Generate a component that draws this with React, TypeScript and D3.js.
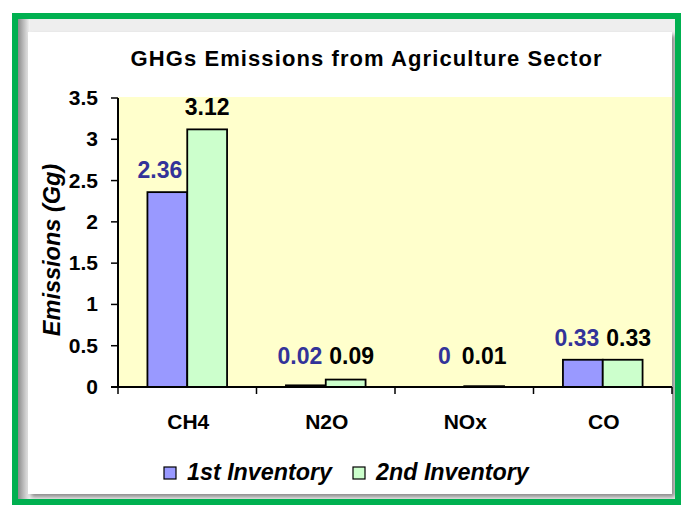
import React from "react";
import * as d3 from "d3";

const categories = ["CH4", "N2O", "NOx", "CO"];
const seriesNames = ["1st Inventory", "2nd Inventory"];
const firstInventory = [2.36, 0.02, 0, 0.33];
const secondInventory = [3.12, 0.09, 0.01, 0.33];
const yTicks = [0, 0.5, 1, 1.5, 2, 2.5, 3, 3.5];
const seriesColors = ["#9999ff", "#ccffcc"];
const labelColors = ["#333399", "#000000"];

const W = 684;
const H = 506;
const FONT = "'Liberation Sans', Arial, Helvetica, sans-serif";

export default function App() {
  const plot = { left: 118, right: 672, top: 97, bottom: 387 };
  const x = d3.scaleBand<string>().domain(categories).range([plot.left, plot.right]).paddingInner(0).paddingOuter(0);
  const bw = x.bandwidth();
  const groupFrac = 0.575;
  const xs = d3
    .scaleBand<string>()
    .domain(seriesNames)
    .range([(bw * (1 - groupFrac)) / 2, (bw * (1 + groupFrac)) / 2]);
  const y = d3.scaleLinear().domain([0, 3.5]).range([plot.bottom, 98]);
  const series = [firstInventory, secondInventory];
  const labelFont = 23;
  const textW = (s: string) => {
    let w = 0;
    for (const ch of s) w += ch === "." ? 0.278 : 0.556;
    return w * labelFont;
  };

  // value labels with simple collision avoidance
  const labels: { text: string; x: number; y: number; color: string }[] = [];
  categories.forEach((c, ci) => {
    const items = series.map((vals, si) => {
      const v = vals[ci];
      const bx = (x(c) as number) + (xs(seriesNames[si]) as number);
      const cx = bx + xs.bandwidth() / 2;
      const by = Math.min(y(v) - 14, y(0) - 23);
      return { text: String(v), x: cx, y: by, color: labelColors[si], w: textW(String(v)), bx, bw: xs.bandwidth(), v };
    });
    const [a, b] = items;
    if (Math.abs(a.y - b.y) < 16) {
      const need = a.w / 2 + b.w / 2 + 7;
      const dist = b.x - a.x;
      if (dist < need) {
        const s = (need - dist) / 2;
        a.x -= s;
        b.x += s;
      }
    } else if (a.y > b.y && y(b.v) < a.y) {
      const right = a.x + a.w / 2;
      const limit = a.bx + a.bw - 5;
      if (right > limit) a.x -= right - limit;
    }
    items.forEach((it) => labels.push(it));
  });

  return (
    <svg width={W} height={H} style={{ display: "block", position: "absolute", left: 0, top: 0 }} fontFamily={FONT}>
      <defs>
        <linearGradient id="leftShade" x1="0" x2="1" y1="0" y2="0">
          <stop offset="0" stopColor="#8c8c8c" />
          <stop offset="1" stopColor="#f4f4f4" />
        </linearGradient>
        <filter id="blur" x="-5%" y="-5%" width="110%" height="110%">
          <feGaussianBlur stdDeviation="2" />
        </filter>
      </defs>
      <rect x={0} y={0} width={W} height={H} fill="#ffffff" />
      {/* frame */}
      <rect x={15} y={16} width={663} height={486} fill="#eeeeee" />
      <rect x={18} y={19} width={12} height={480} fill="url(#leftShade)" />
      <rect x={31} y={35} width={644} height={462} fill="#8a8a8a" filter="url(#blur)" />
      <rect x={28} y={32} width={644} height={462} fill="#ffffff" />
      <rect x={15} y={16} width={663} height={486} fill="none" stroke="#00b050" strokeWidth={6} />

      {/* title */}
      <text x={366} y={66} textAnchor="middle" fontSize={22} fontWeight="bold" textLength={471} lengthAdjust="spacing">
        GHGs Emissions from Agriculture Sector
      </text>

      {/* plot area */}
      <rect x={plot.left} y={plot.top} width={plot.right - plot.left} height={plot.bottom - plot.top} fill="#ffffcc" />

      {/* bars */}
      {categories.map((c, ci) =>
        series.map((vals, si) => {
          const v = vals[ci];
          const bx = (x(c) as number) + (xs(seriesNames[si]) as number);
          return (
            <rect
              key={c + si}
              x={bx}
              y={y(v)}
              width={xs.bandwidth()}
              height={y(0) - y(v)}
              fill={seriesColors[si]}
              stroke="#000"
              strokeWidth={1.8}
            />
          );
        })
      )}

      {/* y axis */}
      <line x1={plot.left} x2={plot.left} y1={y(3.5)} y2={y(0)} stroke="#000" strokeWidth={2} />
      {yTicks.map((t) => (
        <g key={t}>
          <line x1={plot.left - 7} x2={plot.left} y1={y(t)} y2={y(t)} stroke="#000" strokeWidth={1.5} />
          <text x={98} y={y(t) + 7} textAnchor="end" fontSize={21} fontWeight="bold">
            {String(t)}
          </text>
        </g>
      ))}
      <text
        transform={`translate(60, 250) rotate(-90)`}
        textAnchor="middle"
        fontSize={23.5}
        fontWeight="bold"
        fontStyle="italic"
      >
        Emissions (Gg)
      </text>

      {/* x axis */}
      <line x1={plot.left - 7} x2={plot.right} y1={y(0)} y2={y(0)} stroke="#000" strokeWidth={2} />
      {categories.concat([""]).map((c, i) => {
        const tx = i < categories.length ? (x(c) as number) : plot.right;
        return <line key={"t" + i} x1={tx} x2={tx} y1={y(0)} y2={y(0) + 7} stroke="#000" strokeWidth={1.5} />;
      })}
      {categories.map((c) => (
        <text key={"c" + c} x={(x(c) as number) + bw / 2 + 1} y={429} textAnchor="middle" fontSize={21} fontWeight="bold">
          {c}
        </text>
      ))}

      {/* value labels */}
      {labels.map((l, i) => (
        <text key={"l" + i} x={l.x} y={l.y} textAnchor="middle" fontSize={labelFont} fontWeight="bold" fill={l.color}>
          {l.text}
        </text>
      ))}

      {/* legend */}
      {seriesNames.map((s, i) => {
        const lx = i === 0 ? 164 : 353;
        return (
          <g key={"lg" + s}>
            <rect x={lx} y={467} width={12} height={12} fill={seriesColors[i]} stroke="#000" strokeWidth={1.2} />
            <text x={lx + 23} y={480} fontSize={23.3} fontWeight="bold" fontStyle="italic">
              {s}
            </text>
          </g>
        );
      })}
    </svg>
  );
}
